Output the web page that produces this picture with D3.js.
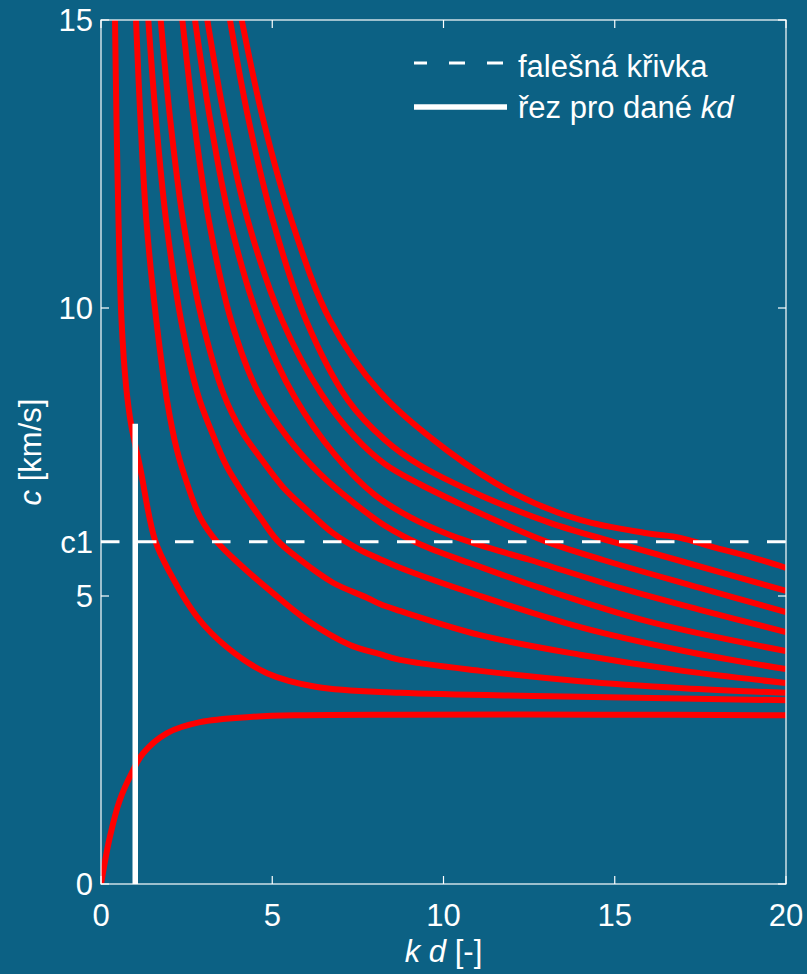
<!DOCTYPE html>
<html><head><meta charset="utf-8">
<script src="https://cdn.jsdelivr.net/npm/d3@7"></script>
<style>
body{margin:0;background:#0c6184;}
svg{display:block;}
text{font-family:"Liberation Sans",Arial,Helvetica,sans-serif;fill:#fff;}
</style>
</head><body>
<script>
// ---- data ----
const xTicks = [0, 5, 10, 15, 20];
const yTicks = [0, 5, 5.94, 10, 15];
const yTickLabels = ["0", "5", "c1", "10", "15"];
const c1Value = 5.94;
const cutKd = 1;
const cutTop = 7.99;
const legendLabels = ["falešná křivka", "řez pro dané "];

const mode0 = [[0,0],[0.26,0.82],[0.55,1.46],[0.90,1.93],[1.23,2.27],[1.93,2.62],[2.89,2.81],[4.35,2.90],[5.81,2.93],[8.73,2.94],[14.6,2.94],[20,2.93]];
const mode1 = [[0.409,15],[0.453,13.26],[0.511,11.53],[0.599,9.79],[0.730,8.66],[0.876,7.99],[1.139,7.24],[1.577,5.97],[2.015,5.40],[2.803,4.64],[3.679,4.11],[4.847,3.66],[6.307,3.42],[8.73,3.32],[13.11,3.26],[20,3.19]];
const mode2 = [[1.022,15],[1.153,13.26],[1.323,11.53],[1.615,9.79],[1.927,8.40],[2.219,7.53],[2.511,6.96],[2.891,6.37],[3.387,5.94],[4.146,5.50],[5.022,5.05],[6.015,4.58],[7.27,4.15],[8.146,3.99],[8.73,3.89],[11.07,3.70],[13.99,3.52],[16.99,3.40],[20,3.32]];
const mode3 = [[1.381,15],[1.606,13.26],[1.898,11.53],[2.336,9.79],[2.832,8.49],[3.212,7.88],[3.679,7.24],[4.146,6.79],[4.642,6.37],[5.139,5.97],[5.81,5.63],[6.774,5.23],[7.766,4.97],[8.146,4.86],[8.73,4.74],[11.07,4.32],[13.99,3.98],[16.99,3.70],[20,3.49]];
const mode4 = [[1.743,15],[2.023,13.26],[2.394,11.53],[2.949,9.79],[3.591,8.49],[4.117,7.85],[4.701,7.36],[5.314,6.89],[6.015,6.49],[6.774,6.09],[7.562,5.80],[8.146,5.64],[8.73,5.49],[11.07,5.00],[13.99,4.46],[16.99,4.05],[20,3.73]];
const mode5 = [[2.374,15],[2.715,13.26],[3.145,11.53],[3.796,9.79],[4.584,8.54],[5.46,7.74],[6.394,7.12],[7.416,6.60],[8.292,6.22],[9.314,5.90],[10.77,5.57],[12.82,5.14],[16.03,4.55],[20,4.045]];
const mode6 = [[2.745,15],[3.191,13.26],[3.758,11.53],[4.613,9.79],[5.664,8.44],[6.832,7.45],[8.0,6.75],[9.022,6.37],[10.19,6.06],[11.36,5.83],[12.53,5.625],[15.15,5.14],[17.49,4.76],[20,4.375]];
const mode7 = [[3.104,15],[3.62,13.26],[4.283,11.53],[5.285,9.79],[6.453,8.49],[7.416,7.76],[8.292,7.29],[9.314,6.94],[10.48,6.60],[11.65,6.28],[13.02,5.94],[14.66,5.625],[17.49,5.14],[20,4.72]];
const mode8 = [[3.766,15],[4.312,13.26],[5.013,11.53],[5.985,9.79],[7.212,8.40],[8.292,7.71],[9.314,7.27],[11.07,6.75],[13.11,6.27],[14.95,5.94],[16.82,5.625],[20,5.09]];
const mode9 = [[4.108,15],[4.739,13.26],[5.556,11.53],[6.686,9.79],[8.146,8.54],[10.10,7.53],[12.03,6.79],[13.99,6.32],[15.94,6.09],[16.91,6.01],[17.87,5.85],[18.95,5.68],[20,5.49]];
const modes = [mode0, mode1, mode2, mode3, mode4, mode5, mode6, mode7, mode8, mode9];

// ---- layout ----
const W = 807, H = 974;
const m = {left: 101, top: 20, right: 21, bottom: 90};
const iw = W - m.left - m.right, ih = H - m.top - m.bottom;
const FS = 31;

const svg = d3.select("body").append("svg").attr("width", W).attr("height", H);
svg.append("rect").attr("width", W).attr("height", H).attr("fill", "#0c6184");

const x = d3.scaleLinear().domain([0, 20]).range([0, iw]);
const y = d3.scaleLinear().domain([0, 15]).range([ih, 0]);

const g = svg.append("g").attr("transform", `translate(${m.left},${m.top})`);
g.append("clipPath").attr("id", "clip").append("rect").attr("width", iw).attr("height", ih);

// curves
const line = d3.line().x(d => x(d[0])).y(d => y(d[1])).curve(d3.curveCatmullRom.alpha(0.5));
const plot = g.append("g").attr("clip-path", "url(#clip)");
plot.selectAll("path.mode").data(modes).enter().append("path")
  .attr("class", "mode").attr("d", line)
  .attr("fill", "none").attr("stroke", "#ff0000").attr("stroke-width", 6)
  .attr("stroke-linejoin", "round");

// dashed c1 line
plot.append("line").attr("x1", x(0)).attr("x2", x(20)).attr("y1", y(c1Value)).attr("y2", y(c1Value))
  .attr("stroke", "#fff").attr("stroke-width", 3).attr("stroke-dasharray", "18.5,18.5");

// cut line
plot.append("line").attr("x1", x(cutKd)).attr("x2", x(cutKd)).attr("y1", y(0)).attr("y2", y(cutTop))
  .attr("stroke", "#fff").attr("stroke-width", 5.5);

// axes (box, inward ticks)
const tl = 8;
const ax = g.append("g").attr("stroke", "#fff").attr("stroke-width", 1.2).attr("fill", "none");
ax.append("rect").attr("x", 0).attr("y", 0).attr("width", iw).attr("height", ih);
xTicks.forEach(t => {
  ax.append("line").attr("x1", x(t)).attr("x2", x(t)).attr("y1", ih).attr("y2", ih - tl);
  ax.append("line").attr("x1", x(t)).attr("x2", x(t)).attr("y1", 0).attr("y2", tl);
});
yTicks.forEach(t => {
  ax.append("line").attr("x1", 0).attr("x2", tl).attr("y1", y(t)).attr("y2", y(t));
  ax.append("line").attr("x1", iw).attr("x2", iw - tl).attr("y1", y(t)).attr("y2", y(t));
});

// tick labels
g.selectAll("text.xt").data(xTicks).enter().append("text").attr("class", "xt")
  .attr("x", d => x(d)).attr("y", ih + 42).attr("text-anchor", "middle")
  .attr("font-size", FS).text(d => d);
g.selectAll("text.yt").data(yTicks).enter().append("text").attr("class", "yt")
  .attr("x", -8).attr("y", d => y(d)).attr("dy", "0.36em").attr("text-anchor", "end")
  .attr("font-size", FS).text((d, i) => yTickLabels[i]);

// axis titles
const yl = svg.append("text").attr("transform", `translate(41,452) rotate(-90)`)
  .attr("text-anchor", "middle").attr("font-size", FS);
yl.append("tspan").attr("font-style", "italic").text("c");
yl.append("tspan").text(" [km/s]");

const xl = svg.append("text").attr("x", m.left + iw / 2).attr("y", 962)
  .attr("text-anchor", "middle").attr("font-size", FS);
xl.append("tspan").attr("font-style", "italic").text("k");
xl.append("tspan").text(" ");
xl.append("tspan").attr("font-style", "italic").text("d");
xl.append("tspan").text(" [-]");

// legend
const lg = svg.append("g");
lg.append("line").attr("x1", 414).attr("x2", 507).attr("y1", 63).attr("y2", 63)
  .attr("stroke", "#fff").attr("stroke-width", 3).attr("stroke-dasharray", "16,22").attr("stroke-dashoffset", 3);
lg.append("text").attr("x", 518).attr("y", 77).attr("font-size", FS).text(legendLabels[0]);
lg.append("line").attr("x1", 414).attr("x2", 507).attr("y1", 107).attr("y2", 107)
  .attr("stroke", "#fff").attr("stroke-width", 5.5);
const lt = lg.append("text").attr("x", 518).attr("y", 118).attr("font-size", FS);
lt.append("tspan").text(legendLabels[1]);
lt.append("tspan").attr("font-style", "italic").text("kd");
</script>
</body></html>
